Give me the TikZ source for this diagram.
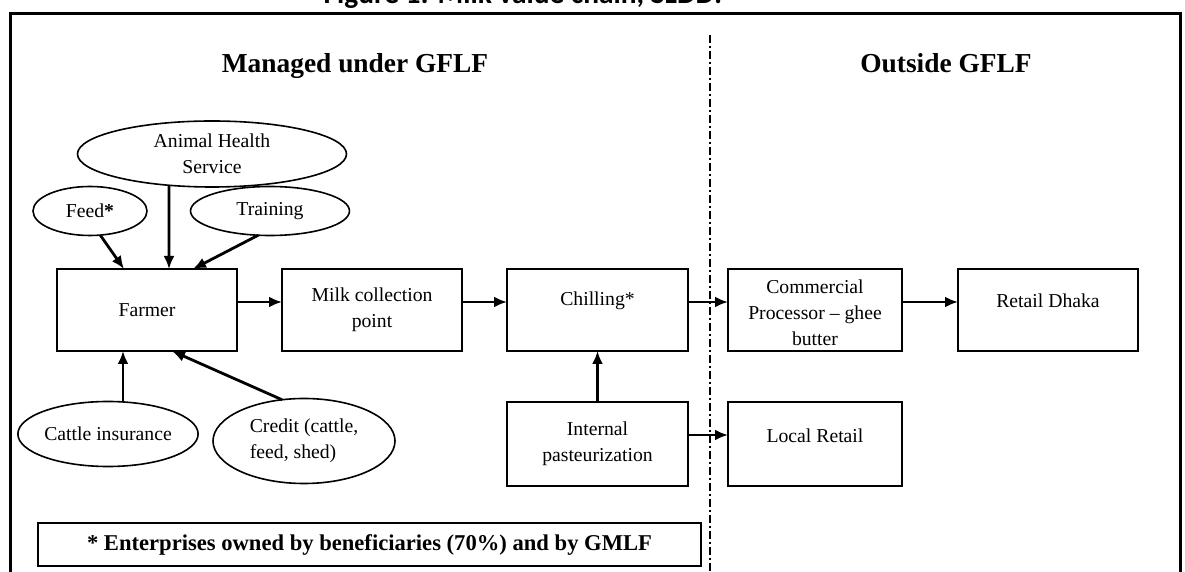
\documentclass[tikz,border=0pt]{standalone}
\usepackage{fontspec}
\setmainfont{Liberation Serif}
\newfontfamily\captionfont{Carlito}
\usepackage{tikz}
\usetikzlibrary{shapes.geometric,positioning,arrows.meta}
\newcommand{\liftup}[2]{\raisebox{#1}[\height][\depth]{#2}}
\tikzset{box style/.style={
		draw=black,
		line width=2pt,
		rectangle,
		minimum width=#1,
		minimum height=82pt,
		inner sep=0pt,
		outer sep=0pt,
		align=center,
		font=\fontsize{19.7}{26}\selectfont,
	},
	box style/.default=180pt,
	oval style/.style={
		draw=black,
		line width=1.6pt,
		ellipse,
		inner sep=0pt,
		outer sep=0pt,
		align=center,
		font=\fontsize{19.7}{26}\selectfont,
	},
	head style/.style={
		font=\bfseries\fontsize{27.4}{30}\selectfont,
		anchor=base,
	},
	note style/.style={
		draw=black,
		line width=2pt,
		minimum width=663pt,
		minimum height=43pt,
		inner sep=0pt,
		font=\bfseries\fontsize{22.6}{26}\selectfont,
	},
	flow style/.style={
		-{Latex[length=13pt,width=11pt]},
		line width=2.8pt,
	},
	divider style/.style={
		line width=1.5pt,
		dash pattern=on 8pt off 3pt on 2pt off 3pt,
	}
}

\begin{document}
\begin{tikzpicture}[x=1pt,y=1pt,node distance=45pt]
	\useasboundingbox (0,0) rectangle (1185,572);
	
	% title, cut off at the top of the page
	\node[anchor=base, font=\captionfont\bfseries\fontsize{29.4}{32}\selectfont] (Caption) at (523,568) {Figure 1: Milk value chain, SLDD:};
	\draw[line width=3pt] (10,558) rectangle (1180,-20);
	
	\coordinate (DivTop) at (710,537);
	\coordinate (DivBot) at (710,0);
	\draw[divider style] (DivTop) -- (DivBot);
	
	\node[head style] (Managed) at (355,499) {Managed under GFLF};
	\node[head style] (Outside) at (946,499) {Outside GFLF};
	
	% main chain
	\node[box style] (Farmer) at (147,262) {Farmer};
	\node[box style, right=of Farmer] (Milk) {Milk collection\\point};
	\node[box style=181pt, right=of Milk] (Chilling) {\liftup{9pt}{Chilling*}};
	\node[box style=174pt, right=40pt of Chilling] (Commercial) {\liftup{-4pt}{\begin{tabular}{@{}c@{}}Commercial\\Processor -- ghee\\butter\end{tabular}}};
	\node[box style, right=56pt of Commercial] (Dhaka) {\liftup{9pt}{Retail Dhaka}};
	\node[box style=181pt, minimum height=84pt, below=51pt of Chilling] (Internal) {Internal\\pasteurization};
	\node[box style=174pt, minimum height=84pt, right=40pt of Internal] (Local) {\liftup{8pt}{Local Retail}};
	
	% services round the farmer
	\node[oval style, minimum width=114pt, minimum height=49pt, above=33.5pt of Farmer, xshift=-57pt] (Feed) {Feed\textbf{*}};
	\node[oval style, minimum width=159pt, minimum height=49pt, above=33.5pt of Farmer, xshift=123pt] (Training) {Training};
	\node[oval style, minimum width=269pt, minimum height=66pt, above=82pt of Farmer, xshift=65pt] (Health) {Animal Health\\Service};
	\node[oval style, minimum width=167pt, minimum height=65pt, below=50.5pt of Farmer, xshift=-39pt] (Insurance) {Cattle insurance};
	\node[oval style, minimum width=182pt, minimum height=85pt, below=47.5pt of Farmer, xshift=157pt, align=left] (Credit) {Credit (cattle,\\feed, shed)};
	
	\node[note style] (Note) at (369.5,27.5) {* Enterprises owned by beneficiaries (70\%) and by GMLF};
	
	\draw[flow style] ([yshift=8pt]Farmer.east) -- ([yshift=8pt]Milk.west);
	\draw[flow style] ([yshift=8pt]Milk.east) -- ([yshift=8pt]Chilling.west);
	\draw[flow style] ([yshift=8pt]Chilling.east) -- ([yshift=8pt]Commercial.west);
	\draw[flow style] ([yshift=8pt]Commercial.east) -- ([yshift=8pt]Dhaka.west);
	\draw[flow style] (Internal) -- (Chilling);
	\draw[flow style] ([yshift=9pt]Internal.east) -- ([yshift=9pt]Local.west);
	
	\draw[flow style] (Feed.-67) -- ([xshift=-23pt]Farmer.north);
	\draw[flow style] (Health.-144) -- ([xshift=22pt]Farmer.north);
	\draw[flow style] (Training.-116) -- ([xshift=46pt]Farmer.north);
	\draw[flow style] ([xshift=15pt]Insurance.north) -- ([xshift=-24pt]Farmer.south);
	\draw[flow style] (Credit.118) -- ([xshift=25pt]Farmer.south);
\end{tikzpicture}
\end{document}
